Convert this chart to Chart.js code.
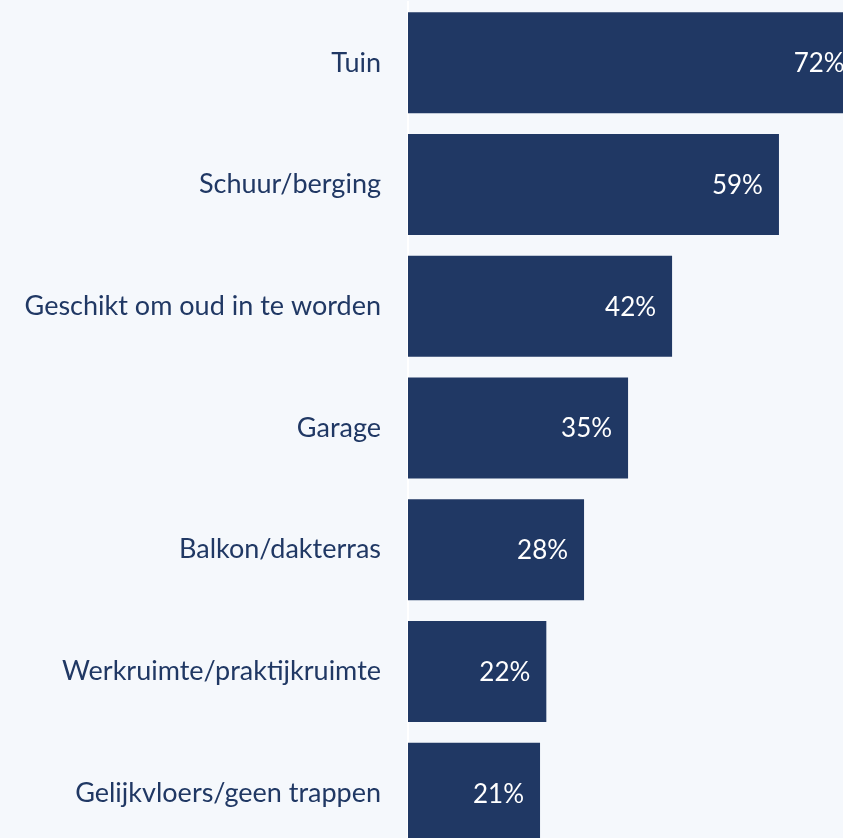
<!DOCTYPE html>
<html>
<head>
<meta charset="utf-8">
<script src="https://cdn.jsdelivr.net/npm/chart.js@4/dist/chart.umd.min.js"></script>
<style>
  html, body { margin: 0; padding: 0; background: #f5f8fc; overflow: hidden; width: 843px; height: 838px; }
  #wrap { position: relative; width: 911px; height: 854px; }
</style>
</head>
<body>
<div id="wrap"><canvas id="c"></canvas></div>
<script>
const categories = [
  "Tuin",
  "Schuur/berging",
  "Geschikt om oud in te worden",
  "Garage",
  "Balkon/dakterras",
  "Werkruimte/praktijkruimte",
  "Gelijkvloers/geen trappen"
];
const values = [72, 59, 42, 35, 28, 22, 21];
const valueLabels = ["72%", "59%", "42%", "35%", "28%", "22%", "21%"];

const FONT = "Lato, 'Open Sans', sans-serif";

const barLabels = {
  id: 'barLabels',
  afterDatasetsDraw(chart) {
    const ctx = chart.ctx;
    const meta = chart.getDatasetMeta(0);
    ctx.save();
    ctx.fillStyle = '#ffffff';
    ctx.font = '26px ' + FONT;
    ctx.textAlign = 'right';
    ctx.textBaseline = 'middle';
    meta.data.forEach((bar, i) => {
      ctx.fillText(valueLabels[i], bar.x - 16, bar.y + 1);
    });
    ctx.restore();
  }
};

new Chart(document.getElementById('c'), {
  type: 'bar',
  data: {
    labels: categories,
    datasets: [{
      data: values,
      backgroundColor: '#203864',
      borderWidth: 0,
      barPercentage: 0.83,
      categoryPercentage: 1.0
    }]
  },
  options: {
    indexAxis: 'y',
    responsive: true,
    maintainAspectRatio: false,
    animation: false,
    layout: { padding: { top: 2, right: 0, bottom: 0, left: 0 } },
    plugins: { legend: { display: false }, tooltip: { enabled: false } },
    scales: {
      x: { display: false, min: 0, max: 80 },
      y: {
        afterFit(scale) {
          scale.width = 408;
          scale.paddingTop = 0;
          scale.paddingBottom = 0;
        },
        grid: { display: false, drawTicks: false },
        border: { display: true, color: '#ffffff', width: 2 },
        ticks: {
          color: '#203864',
          padding: 27,
          font: { family: FONT, size: 27 }
        }
      }
    }
  },
  plugins: [barLabels]
});
</script>
</body>
</html>
